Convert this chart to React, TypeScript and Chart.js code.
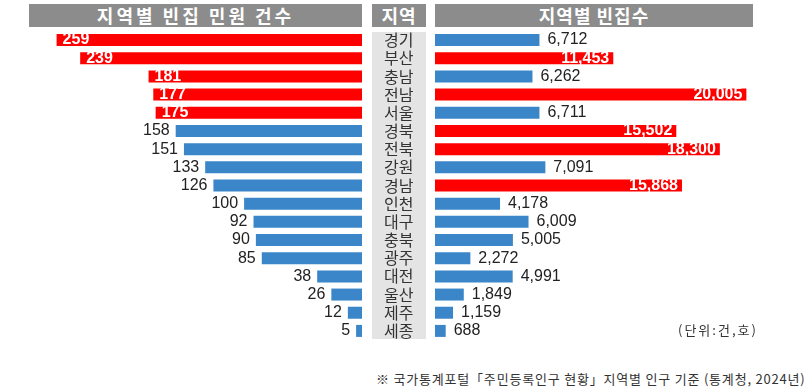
import React, { useEffect, useRef } from "react";
import { Chart, registerables } from "chart.js";

Chart.register(...registerables);

const regions = ["경기", "부산", "충남", "전남", "서울", "경북", "전북", "강원", "경남", "인천", "대구", "충북", "광주", "대전", "울산", "제주", "세종"];
const complaints = [259, 239, 181, 177, 175, 158, 151, 133, 126, 100, 92, 90, 85, 38, 26, 12, 5];
const vacantHouses = [6712, 11453, 6262, 20005, 6711, 15502, 18300, 7091, 15868, 4178, 6009, 5005, 2272, 4991, 1849, 1159, 688];
const complaintHighlight = ["경기", "부산", "충남", "전남", "서울"];
const housingHighlight = ["부산", "전남", "경북", "전북", "경남"];

const titleLeft = "지역별 빈집 민원 건수";
const titleMid = "지역";
const titleRight = "지역별 빈집수";
const unitText = "(단위:건,호)";
const footerText = "※ 국가통계포털「주민등록인구 현황」지역별 인구 기준 (통계청, 2024년)";

const RED = "#ff0000";
const BLUE = "#3a86c8";
const KR = '"Noto Sans CJK KR", "Noto Sans", sans-serif';
const NUM = '"Liberation Sans", Arial, sans-serif';

function makeLabelPlugin(side: "left" | "right", highlight: string[]) {
  return {
    id: "valueLabels" + side,
    afterDatasetsDraw(chart: any) {
      const ctx = chart.ctx;
      const meta = chart.getDatasetMeta(0);
      const data = chart.data.datasets[0].data as number[];
      ctx.save();
      ctx.textBaseline = "middle";
      meta.data.forEach((el: any, i: number) => {
        const { x, y } = el.getProps(["x", "y"], true);
        const hot = highlight.includes(regions[i]);
        const txt = data[i].toLocaleString("en-US");
        if (hot) {
          ctx.fillStyle = "#ffffff";
          ctx.font = `bold 16px ${NUM}`;
          if (side === "left") {
            ctx.textAlign = "left";
            ctx.fillText(txt, x + 6, y);
          } else {
            ctx.textAlign = "right";
            ctx.fillText(txt, x - 4, y);
          }
        } else {
          ctx.fillStyle = "#222222";
          ctx.font = `16px ${NUM}`;
          if (side === "left") {
            ctx.textAlign = "right";
            ctx.fillText(txt, x - 6, y);
          } else {
            ctx.textAlign = "left";
            ctx.fillText(txt, x + 8, y);
          }
        }
      });
      ctx.restore();
    },
  };
}

function LeftChart() {
  const ref = useRef<HTMLCanvasElement>(null);
  useEffect(() => {
    const chart = new Chart(ref.current!, {
      type: "bar",
      data: {
        labels: regions,
        datasets: [
          {
            data: complaints,
            backgroundColor: regions.map((r) => (complaintHighlight.includes(r) ? RED : BLUE)),
            barPercentage: 0.66,
            categoryPercentage: 1,
          },
        ],
      },
      options: {
        indexAxis: "y",
        animation: false,
        responsive: false,
        layout: { padding: 0 },
        plugins: { legend: { display: false }, tooltip: { enabled: false }, title: { display: false } },
        scales: {
          x: { type: "linear", reverse: true, min: 0, max: 307, display: false },
          y: { type: "category", display: false },
        },
      },
      plugins: [makeLabelPlugin("left", complaintHighlight)],
    });
    return () => chart.destroy();
  }, []);
  return <canvas ref={ref} width={362} height={309} style={{ width: 362, height: 309, display: "block" }} />;
}

function RightChart() {
  const ref = useRef<HTMLCanvasElement>(null);
  useEffect(() => {
    const chart = new Chart(ref.current!, {
      type: "bar",
      data: {
        labels: regions,
        datasets: [
          {
            data: vacantHouses,
            backgroundColor: regions.map((r) => (housingHighlight.includes(r) ? RED : BLUE)),
            barPercentage: 0.66,
            categoryPercentage: 1,
          },
        ],
      },
      options: {
        indexAxis: "y",
        animation: false,
        responsive: false,
        layout: { padding: { left: 22, top: 0, right: 0, bottom: 0 } },
        plugins: { legend: { display: false }, tooltip: { enabled: false }, title: { display: false } },
        scales: {
          x: { type: "linear", min: 0, max: 23900, display: false },
          y: {
            type: "category",
            position: "left",
            grid: { display: false, drawTicks: false },
            border: { display: false },
            ticks: {
              color: "#333333",
              font: { family: KR, size: 16 },
              crossAlign: "far",
              padding: 0,
              autoSkip: false,
            },
            afterFit: (scale: any) => {
              scale.width = 51;
              scale.paddingTop = 0;
              scale.paddingBottom = 0;
            },
          },
        },
      },
      plugins: [makeLabelPlugin("right", housingHighlight)],
    });
    return () => chart.destroy();
  }, []);
  return <canvas ref={ref} width={445} height={309} style={{ width: 445, height: 309, display: "block" }} />;
}

const headerStyle: React.CSSProperties = {
  position: "absolute",
  top: 4,
  height: 23,
  background: "#8c8c8c",
  color: "#ffffff",
  fontFamily: KR,
  fontWeight: 700,
  fontSize: 18,
  lineHeight: "23px",
  textAlign: "center",
  whiteSpace: "nowrap",
};

export default function App() {
  return (
    <div style={{ position: "absolute", left: 0, top: 0, width: 807, height: 389, background: "#ffffff", overflow: "hidden" }}>
      <div style={{ ...headerStyle, left: 29, width: 333, letterSpacing: 3 }}>{titleLeft}</div>
      <div style={{ ...headerStyle, left: 372, width: 54, letterSpacing: 1 }}>{titleMid}</div>
      <div style={{ ...headerStyle, left: 435, width: 318, letterSpacing: 1 }}>{titleRight}</div>
      <div style={{ position: "absolute", left: 372, top: 32, width: 54, height: 307, background: "#e4e4e4" }} />
      <div style={{ position: "absolute", left: 0, top: 31 }}>
        <LeftChart />
      </div>
      <div style={{ position: "absolute", left: 362, top: 31 }}>
        <RightChart />
      </div>
      <div
        style={{
          position: "absolute",
          left: 678,
          top: 321,
          fontFamily: KR,
          fontSize: 13,
          lineHeight: "18px",
          letterSpacing: 2,
          color: "#333333",
          whiteSpace: "nowrap",
        }}
      >
        {unitText}
      </div>
      <div
        style={{
          position: "absolute",
          left: 376,
          top: 370,
          fontFamily: KR,
          fontSize: 13,
          lineHeight: "18px",
          letterSpacing: 0.8,
          color: "#333333",
          whiteSpace: "nowrap",
        }}
      >
        {footerText}
      </div>
    </div>
  );
}
